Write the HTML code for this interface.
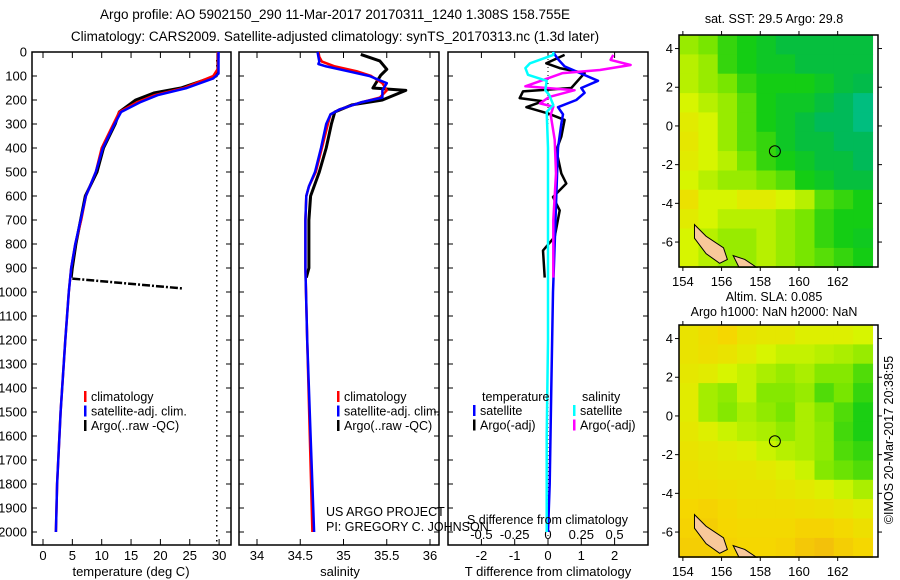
<!DOCTYPE html>
<html><head><meta charset="utf-8"><style>
body{margin:0;background:#fff;}
svg{display:block;font-family:"Liberation Sans",sans-serif;}
text{fill:#000;}
</style></head><body>
<svg id="fig" width="900" height="580" viewBox="0 0 900 580">
<text x="335" y="19" font-size="13.5" text-anchor="middle">Argo profile: AO 5902150_290 11-Mar-2017 20170311_1240 1.308S 158.755E</text>
<text x="335" y="41" font-size="13.5" text-anchor="middle">Climatology: CARS2009. Satellite-adjusted climatology: synTS_20170313.nc (1.3d later)</text>
<g id="p1"></g>
<g id="p2"></g>
<g id="p3"></g>
<g id="m1"></g>
<g id="m2"></g>
<text x="326" y="516" font-size="12.5">US ARGO PROJECT</text>
<text x="326" y="531" font-size="12.5">PI: GREGORY C. JOHNSON</text>
<text x="467" y="524" font-size="12.5">S difference from climatology</text>
<text x="774" y="23" font-size="12.5" text-anchor="middle">sat. SST: 29.5 Argo: 29.8</text>
<text x="774" y="301" font-size="12.5" text-anchor="middle">Altim. SLA: 0.085</text>
<text x="774" y="316" font-size="12.5" text-anchor="middle">Argo h1000: NaN h2000: NaN</text>
<text transform="translate(893,440) rotate(-90)" font-size="12.5" text-anchor="middle">©IMOS 20-Mar-2017 20:38:55</text>
</svg>
<script>
// ---- data ----
const depthTicks=[0,100,200,300,400,500,600,700,800,900,1000,1100,1200,1300,1400,1500,1600,1700,1800,1900,2000];
const tempTicks=[0,5,10,15,20,25,30];
const salTicks=[34,34.5,35,35.5,36];
const tdTicks=[-2,-1,0,1,2];
const sdTicks=[-0.5,-0.25,0,0.25,0.5];
const sdTickLabels=["-0.5","-0.25","0","0.25","0.5"];

const climTDepth=[0,70,100,150,180,210,250,300,400,500,600,700,800,900,1000,1200,1500,1800,2000];
const climTVal=[29.8,29.8,29.0,24.0,19.0,16.0,13.0,12.0,10.0,9.0,7.3,6.5,5.5,4.8,4.4,3.8,3.0,2.4,2.2];
const satTDepth=[0,90,110,150,180,210,250,300,400,500,600,700,800,900,1000,1200,1500,1800,2000];
const satTVal=[29.9,29.9,29.0,24.5,19.5,16.5,13.3,12.2,10.2,9.0,7.3,6.4,5.5,4.8,4.4,3.8,3.0,2.4,2.2];
const argoTDepth=[5,80,100,150,170,200,250,300,400,500,560,600,700,800,900,940];
const argoTVal=[29.8,29.8,29.5,23.5,19.0,15.8,13.0,12.3,10.3,9.2,8.0,7.2,6.4,5.6,5.0,4.8];
const argoBadDepth=[944,985];
const argoBadVal=[5.0,23.7];

const climSDepth=[0,20,40,60,80,100,130,160,190,210,240,260,300,400,500,560,600,700,900,1200,1600,2000];
const climSVal=[34.71,34.72,34.75,34.9,35.15,35.32,35.45,35.5,35.42,35.2,34.95,34.85,34.82,34.75,34.68,34.6,34.57,34.56,34.56,34.58,34.61,34.64];
const satSDepth=[0,20,40,50,60,80,100,130,160,190,210,240,260,300,400,500,560,600,700,900,1200,1600,2000];
const satSVal=[34.7,34.71,34.72,34.71,34.8,35.05,35.3,35.5,35.45,35.45,35.2,34.95,34.85,34.8,34.74,34.67,34.6,34.57,34.56,34.56,34.58,34.62,34.66];
const argoSDepth=[10,37,72,97,150,160,200,220,250,300,400,500,600,700,900,940];
const argoSVal=[35.2,35.42,35.5,35.43,35.34,35.72,35.45,35.1,34.9,34.86,34.8,34.72,34.62,34.6,34.6,34.57];

const tSatDDepth=[0,30,60,90,120,150,170,200,230,260,300,400,600,800,1000,1400,1800,2000];
const tSatDVal=[0.15,0.3,0.5,1.0,1.5,1.0,1.1,0.85,0.3,0.45,0.4,0.3,0.25,0.2,0.15,0.1,0.05,0.0];
const tArgoDDepth=[12,47,67,88,150,164,192,205,230,256,283,353,409,506,548,604,660,770,827,940];
const tArgoDVal=[0.5,-0.05,0.35,1.1,0.7,-0.75,-0.85,-0.15,-0.65,0.0,0.5,0.4,0.25,0.4,0.55,0.15,0.35,0.2,-0.15,-0.1];
const sSatDDepth=[0,12,47,67,95,120,159,180,221,250,400,800,1200,1600,2000];
const sSatDVal=[0.04,0.04,-0.135,-0.17,-0.15,-0.01,-0.02,0.01,0.04,-0.01,0.0,0.0,0.0,-0.01,-0.01];
const sArgoDDepth=[12,33,54,75,88,143,159,187,214,228,262,366,506,700,940];
const sArgoDVal=[0.49,0.47,0.62,0.39,0.11,-0.17,0.2,0.01,-0.06,0.04,0.02,0.05,0.06,0.04,0.04];

// map grids: value 0 (orange) .. 1 (cyan), rows from north to south, 1 deg cells
const sstGrid=[
[0.55,0.6,0.7,0.75,0.78,0.82,0.82,0.82,0.82,0.82],
[0.5,0.55,0.7,0.75,0.78,0.78,0.82,0.82,0.82,0.82],
[0.5,0.55,0.6,0.7,0.75,0.75,0.75,0.78,0.82,0.84],
[0.45,0.5,0.55,0.65,0.75,0.78,0.78,0.82,0.86,0.9],
[0.4,0.45,0.55,0.65,0.75,0.78,0.82,0.86,0.86,0.9],
[0.38,0.45,0.55,0.65,0.7,0.78,0.82,0.82,0.86,0.86],
[0.4,0.45,0.5,0.6,0.7,0.75,0.78,0.82,0.82,0.86],
[0.45,0.5,0.55,0.55,0.6,0.65,0.75,0.78,0.82,0.82],
[0.35,0.45,0.45,0.4,0.4,0.45,0.5,0.65,0.7,0.75],
[0.4,0.45,0.5,0.5,0.5,0.55,0.6,0.7,0.75,0.75],
[0.45,0.5,0.55,0.55,0.5,0.55,0.6,0.7,0.75,0.77],
[0.45,0.5,0.55,0.55,0.5,0.55,0.6,0.65,0.7,0.75]];
const slaGrid=[
[0.36,0.33,0.3,0.36,0.38,0.38,0.42,0.42,0.42,0.45],
[0.36,0.34,0.36,0.4,0.45,0.48,0.48,0.5,0.52,0.55],
[0.38,0.4,0.45,0.48,0.52,0.55,0.52,0.58,0.58,0.66],
[0.4,0.53,0.56,0.48,0.58,0.58,0.55,0.66,0.6,0.7],
[0.4,0.53,0.58,0.52,0.56,0.6,0.52,0.58,0.66,0.74],
[0.38,0.42,0.47,0.5,0.52,0.56,0.52,0.56,0.68,0.74],
[0.36,0.38,0.4,0.42,0.47,0.5,0.52,0.56,0.66,0.7],
[0.34,0.36,0.37,0.37,0.39,0.42,0.47,0.58,0.62,0.66],
[0.33,0.33,0.34,0.35,0.35,0.37,0.39,0.42,0.47,0.52],
[0.3,0.28,0.31,0.33,0.33,0.33,0.34,0.35,0.37,0.4],
[0.28,0.26,0.3,0.31,0.31,0.31,0.28,0.28,0.31,0.34],
[0.26,0.26,0.28,0.3,0.3,0.28,0.23,0.2,0.26,0.3]];

// ---- drawing ----
const NS='http://www.w3.org/2000/svg';
function mk(parent,tag,attrs){const e=document.createElementNS(NS,tag);for(const k in attrs)e.setAttribute(k,attrs[k]);parent.appendChild(e);return e;}
const Y0=52,YS=0.24;
const yD=d=>Y0+d*YS;
const xT=v=>43+v*5.87;
const xS=v=>257+(v-34)*86.5;
const xTD=v=>548+v*33.3;
const xSD=v=>548+v*133.2;
const FS=13;

function frame(g,x0,x1,name){
  const r=mk(g,'rect',{x:x0,y:52,width:x1-x0,height:493,fill:'none',stroke:'#000','stroke-width':1.5});
  
  
  depthTicks.forEach(d=>{
    mk(g,'line',{x1:x0,x2:x0+5,y1:yD(d),y2:yD(d),stroke:'#000'});
    mk(g,'line',{x1:x1-5,x2:x1,y1:yD(d),y2:yD(d),stroke:'#000'});
  });
}
function xticks(g,ticks,fx,labels,ly,name){
  ticks.forEach((t,i)=>{
    const x=fx(t);
    mk(g,'line',{x1:x,x2:x,y1:52,y2:58,stroke:'#000'});
    mk(g,'line',{x1:x,x2:x,y1:539,y2:545,stroke:'#000'});
    const tx=mk(g,'text',{x:x,y:ly,'font-size':FS,'text-anchor':'middle'});
    tx.textContent=labels?labels[i]:String(t);
    
    
  });
}
function series(g,ds,vs,fx,color,name,w,dash){
  const pts=ds.map((d,i)=>fx(vs[i]).toFixed(1)+','+yD(d).toFixed(1)).join(' ');
  const p=mk(g,'polyline',{points:pts,fill:'none',stroke:color,'stroke-width':w||2.5,'stroke-linejoin':'round'});
  if(dash)p.setAttribute('stroke-dasharray',dash);
  
  
}
function legend(g,x,y,items){
  items.forEach((it,i)=>{
    mk(g,'rect',{x:x,y:y+i*14.5-10,width:2.5,height:11,fill:it[0]});
    const t=mk(g,'text',{x:x+7,y:y+i*14.5,'font-size':12.5});
    t.textContent=it[1];
    
    
  });
}

// panel 1
const p1=document.getElementById('p1');
frame(p1,32,231,'temperature-plot-frame');
depthTicks.forEach(d=>{const t=mk(p1,'text',{x:27,y:yD(d)+4.5,'font-size':FS,'text-anchor':'end'});t.textContent=d;

});
xticks(p1,tempTicks,xT,null,560,'temperature-tick-label');
const tt=mk(p1,'text',{x:131,y:576,'font-size':FS,'text-anchor':'middle'});tt.textContent='temperature (deg C)';


mk(p1,'line',{x1:xT(29.6),x2:xT(29.6),y1:60,y2:545,stroke:'#000','stroke-width':1.5,'stroke-dasharray':'1.5,3.5'});
series(p1,argoTDepth,argoTVal,xT,'#000','argo-temperature-line',3);
series(p1,argoBadDepth,argoBadVal,xT,'#000','argo-temperature-spike',2.5,'8,2,2,2');
series(p1,climTDepth,climTVal,xT,'#f00','climatology-temperature-line');
series(p1,satTDepth,satTVal,xT,'#00f','satellite-temperature-line');
legend(p1,84,401,[['#f00','climatology'],['#00f','satellite-adj. clim.'],['#000','Argo(..raw -QC)']]);

// panel 2
const p2=document.getElementById('p2');
frame(p2,239,439,'salinity-plot-frame');
xticks(p2,salTicks,xS,null,560,'salinity-tick-label');
const st=mk(p2,'text',{x:340,y:576,'font-size':FS,'text-anchor':'middle'});st.textContent='salinity';


series(p2,argoSDepth,argoSVal,xS,'#000','argo-salinity-line',3);
series(p2,climSDepth,climSVal,xS,'#f00','climatology-salinity-line');
series(p2,satSDepth,satSVal,xS,'#00f','satellite-salinity-line');
legend(p2,337,401,[['#f00','climatology'],['#00f','satellite-adj. clim.'],['#000','Argo(..raw -QC)']]);

// panel 3
const p3=document.getElementById('p3');
frame(p3,448,648,'difference-plot-frame');
xticks(p3,tdTicks,xTD,null,560,'t-diff-tick-label');
sdTicks.forEach((t,i)=>{const x=xSD(t);const tx=mk(p3,'text',{x:x,y:539,'font-size':FS,'text-anchor':'middle'});tx.textContent=sdTickLabels[i];

});
const dt=mk(p3,'text',{x:548,y:576,'font-size':FS,'text-anchor':'middle'});dt.textContent='T difference from climatology';


mk(p3,'line',{x1:548,x2:548,y1:55,y2:545,stroke:'#000','stroke-dasharray':'1,3'});
series(p3,tArgoDDepth,tArgoDVal,xTD,'#000','argo-t-diff-line');
series(p3,tSatDDepth,tSatDVal,xTD,'#00f','satellite-t-diff-line');
series(p3,sArgoDDepth,sArgoDVal,xSD,'#f0f','argo-s-diff-line');
series(p3,sSatDDepth,sSatDVal,xSD,'#0ff','satellite-s-diff-line');
const lh1=mk(p3,'text',{x:482,y:401,'font-size':12.5});lh1.textContent='temperature';


const lh2=mk(p3,'text',{x:582,y:401,'font-size':12.5});lh2.textContent='salinity';


legend(p3,473,415,[['#00f','satellite'],['#000','Argo(-adj)']]);
legend(p3,573,415,[['#0ff','satellite'],['#f0f','Argo(-adj)']]);

// maps
function cmap(v){
  const stops=[[0,[240,150,30]],[0.3,[245,215,0]],[0.45,[215,245,0]],[0.6,[120,230,0]],[0.75,[20,205,20]],[0.85,[0,185,80]],[1,[0,200,220]]];
  for(let i=1;i<stops.length;i++){if(v<=stops[i][0]){const a=stops[i-1],b=stops[i];const f=(v-a[0])/(b[0]-a[0]);
    return 'rgb('+a[1].map((c,j)=>Math.round(c+(b[1][j]-c)*f)).join(',')+')';}}
  return 'rgb(0,200,220)';
}
const LON0=153.8,LAT0=4.7,PX=19.35;
function drawMap(id,top,grid,name){
  const g=document.getElementById(id);
  const xL=lon=>679+(lon-LON0)*PX, yL=lat=>top+(LAT0-lat)*PX;
  grid.forEach((row,r)=>row.forEach((v,c)=>{
    const cell=mk(g,'rect',{x:xL(LON0+c).toFixed(1),y:yL(LAT0-r).toFixed(1),width:PX+0.6,height:PX+0.6,fill:cmap(v)});
    
    
  }));
  const isl=mk(g,'path',{d:'M'+xL(154.6)+','+yL(-5.1)+' L'+xL(155.2)+','+yL(-5.7)+' L'+xL(156.1)+','+yL(-6.3)+' L'+xL(156.3)+','+yL(-6.9)+' L'+xL(155.9)+','+yL(-7.1)+' L'+xL(155.2)+','+yL(-6.6)+' L'+xL(154.6)+','+yL(-5.8)+'Z M'+xL(156.6)+','+yL(-6.7)+' L'+xL(157.2)+','+yL(-6.9)+' L'+xL(157.8)+','+yL(-7.3)+' L'+xL(156.9)+','+yL(-7.3)+'Z',fill:'#f8c89a',stroke:'#000','stroke-width':1});
  
  
  const pos=mk(g,'circle',{cx:xL(158.755),cy:yL(-1.308),r:5.5,fill:'none',stroke:'#000','stroke-width':1});
  
  
  const fr=mk(g,'rect',{x:679,y:top,width:199,height:232,fill:'none',stroke:'#000','stroke-width':1.5});
  
  
  [154,156,158,160,162].forEach(l=>{const x=xL(l);
    mk(g,'line',{x1:x,x2:x,y1:top,y2:top-4,stroke:'#000'});mk(g,'line',{x1:x,x2:x,y1:top+232,y2:top+236,stroke:'#000'});
    const t=mk(g,'text',{x:x,y:top+251,'font-size':FS,'text-anchor':'middle'});t.textContent=l;
    
    });
  [4,2,0,-2,-4,-6].forEach(l=>{const y=yL(l);
    mk(g,'line',{x1:675,x2:679,y1:y,y2:y,stroke:'#000'});mk(g,'line',{x1:878,x2:882,y1:y,y2:y,stroke:'#000'});
    const t=mk(g,'text',{x:673,y:y+4.5,'font-size':FS,'text-anchor':'end'});t.textContent=l;
    
    });
}
drawMap('m1',35,sstGrid,'sst-map');
drawMap('m2',325,slaGrid,'sla-map');
</script>
</body></html>
